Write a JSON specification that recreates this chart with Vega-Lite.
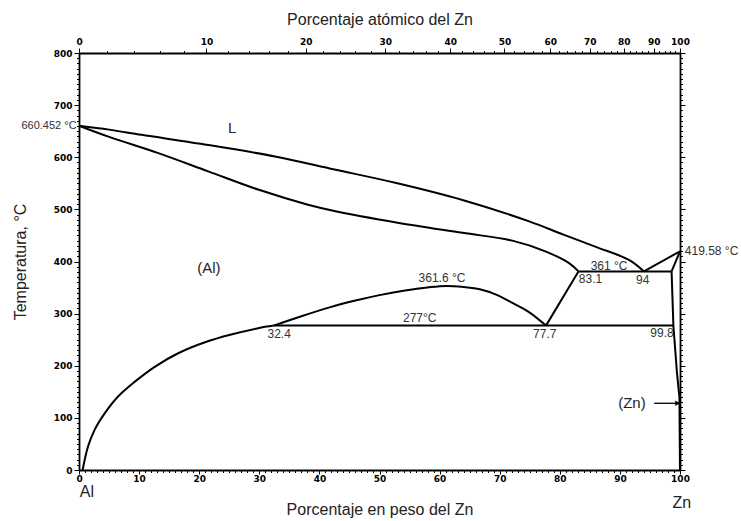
{
  "$schema": "https://vega.github.io/schema/vega-lite/v6.json",
  "width": 601,
  "height": 417,
  "autosize": "none",
  "padding": {"left": 79, "top": 53, "right": 61, "bottom": 51},
  "background": "white",
  "config": {"view": {"stroke": null}},
  "datasets": {
    "curves": [
      {"seg": "liq", "i": 0, "wt": 0, "T": 660.45},
      {"seg": "liq", "i": 1, "wt": 5, "T": 653},
      {"seg": "liq", "i": 2, "wt": 10.4, "T": 643},
      {"seg": "liq", "i": 3, "wt": 21.5, "T": 623.5},
      {"seg": "liq", "i": 4, "wt": 32.6, "T": 601.5},
      {"seg": "liq", "i": 5, "wt": 42.5, "T": 576.5},
      {"seg": "liq", "i": 6, "wt": 52.8, "T": 550.5},
      {"seg": "liq", "i": 7, "wt": 63.8, "T": 518},
      {"seg": "liq", "i": 8, "wt": 74.9, "T": 477},
      {"seg": "liq", "i": 9, "wt": 80.5, "T": 452},
      {"seg": "liq", "i": 10, "wt": 86, "T": 428},
      {"seg": "liq", "i": 11, "wt": 91.5, "T": 403},
      {"seg": "liq", "i": 12, "wt": 94, "T": 381},
      {"seg": "sol", "i": 0, "wt": 0, "T": 660.45},
      {"seg": "sol", "i": 1, "wt": 4.9, "T": 639.5},
      {"seg": "sol", "i": 2, "wt": 13.2, "T": 608},
      {"seg": "sol", "i": 3, "wt": 21.5, "T": 573},
      {"seg": "sol", "i": 4, "wt": 29.8, "T": 538},
      {"seg": "sol", "i": 5, "wt": 38.1, "T": 509},
      {"seg": "sol", "i": 6, "wt": 42.5, "T": 497},
      {"seg": "sol", "i": 7, "wt": 52.8, "T": 475},
      {"seg": "sol", "i": 8, "wt": 63.8, "T": 455},
      {"seg": "sol", "i": 9, "wt": 72.1, "T": 440},
      {"seg": "sol", "i": 10, "wt": 77.7, "T": 419},
      {"seg": "sol", "i": 11, "wt": 81.6, "T": 396.5},
      {"seg": "sol", "i": 12, "wt": 83.1, "T": 381},
      {"seg": "solvus", "i": 0, "wt": 0.6, "T": 0},
      {"seg": "solvus", "i": 1, "wt": 1.5, "T": 45},
      {"seg": "solvus", "i": 2, "wt": 2.6, "T": 77},
      {"seg": "solvus", "i": 3, "wt": 4.3, "T": 109},
      {"seg": "solvus", "i": 4, "wt": 6.5, "T": 141},
      {"seg": "solvus", "i": 5, "wt": 9.3, "T": 169.5},
      {"seg": "solvus", "i": 6, "wt": 12.6, "T": 198},
      {"seg": "solvus", "i": 7, "wt": 16.5, "T": 224},
      {"seg": "solvus", "i": 8, "wt": 21.2, "T": 246},
      {"seg": "solvus", "i": 9, "wt": 25, "T": 259},
      {"seg": "solvus", "i": 10, "wt": 29.8, "T": 272},
      {"seg": "solvus", "i": 11, "wt": 32.4, "T": 277},
      {"seg": "dome", "i": 0, "wt": 32.4, "T": 277},
      {"seg": "dome", "i": 1, "wt": 37, "T": 295},
      {"seg": "dome", "i": 2, "wt": 41.7, "T": 312},
      {"seg": "dome", "i": 3, "wt": 46, "T": 325},
      {"seg": "dome", "i": 4, "wt": 50, "T": 335.5},
      {"seg": "dome", "i": 5, "wt": 54, "T": 344},
      {"seg": "dome", "i": 6, "wt": 58.3, "T": 350.6},
      {"seg": "dome", "i": 7, "wt": 61.1, "T": 353},
      {"seg": "dome", "i": 8, "wt": 64, "T": 351},
      {"seg": "dome", "i": 9, "wt": 66.7, "T": 346.8},
      {"seg": "dome", "i": 10, "wt": 69.5, "T": 336},
      {"seg": "dome", "i": 11, "wt": 72.2, "T": 320},
      {"seg": "dome", "i": 12, "wt": 75, "T": 302},
      {"seg": "dome", "i": 13, "wt": 77.7, "T": 277}
    ],
    "lines": [
      {"seg": "zl", "i": 0, "wt": 94, "T": 381},
      {"seg": "zl", "i": 1, "wt": 100, "T": 419.58},
      {"seg": "zs", "i": 0, "wt": 100, "T": 419.58},
      {"seg": "zs", "i": 1, "wt": 98.6, "T": 381},
      {"seg": "eut", "i": 0, "wt": 83.1, "T": 381},
      {"seg": "eut", "i": 1, "wt": 98.6, "T": 381},
      {"seg": "zsolv", "i": 0, "wt": 98.6, "T": 381},
      {"seg": "zsolv", "i": 1, "wt": 98.9, "T": 277},
      {"seg": "zsolv", "i": 2, "wt": 99.5, "T": 186},
      {"seg": "zsolv", "i": 3, "wt": 99.9, "T": 140},
      {"seg": "zsolv", "i": 4, "wt": 100, "T": 0},
      {"seg": "mono", "i": 0, "wt": 32.4, "T": 277},
      {"seg": "mono", "i": 1, "wt": 98.9, "T": 277},
      {"seg": "l1", "i": 0, "wt": 77.7, "T": 277},
      {"seg": "l1", "i": 1, "wt": 83.1, "T": 381}
    ],
    "labels": [
      {"grp": "s", "wt": 60.4, "T": 368, "text": "361.6 °C"},
      {"grp": "s", "wt": 56.7, "T": 291, "text": "277°C"},
      {"grp": "s", "wt": 33.3, "T": 260, "text": "32.4"},
      {"grp": "s", "wt": 77.5, "T": 260, "text": "77.7"},
      {"grp": "s", "wt": 88.2, "T": 391, "text": "361 °C"},
      {"grp": "s", "wt": 85.1, "T": 366, "text": "83.1"},
      {"grp": "s", "wt": 93.8, "T": 364.5, "text": "94"},
      {"grp": "s", "wt": 97.0, "T": 262, "text": "99.8"},
      {"grp": "b", "wt": 25.5, "T": 656, "text": "L"},
      {"grp": "b", "wt": 21.6, "T": 388, "text": "(Al)"},
      {"grp": "b", "wt": 92, "T": 128, "text": "(Zn)"},
      {"grp": "e", "wt": 1.3, "T": -42, "text": "Al"},
      {"grp": "e", "wt": 100.3, "T": -63, "text": "Zn"},
      {"grp": "r", "wt": -0.4, "T": 660, "text": "660.452 °C"},
      {"grp": "l", "wt": 100.8, "T": 421, "text": "419.58 °C"}
    ],
    "arrow": [
      {"wt": 95.7, "wt2": 99.6, "T": 128}
    ]
  },
  "layer": [
    {
      "data": {"name": "curves"},
      "mark": {"type": "line", "interpolate": "catmull-rom", "color": "black", "strokeWidth": 2},
      "encoding": {
        "x": {
          "field": "wt", "type": "quantitative",
          "scale": {"domain": [0, 100], "nice": false, "zero": false},
          "axis": {
            "orient": "bottom",
            "values": [0,1,2,3,4,5,6,7,8,9,10,11,12,13,14,15,16,17,18,19,20,21,22,23,24,25,26,27,28,29,30,31,32,33,34,35,36,37,38,39,40,41,42,43,44,45,46,47,48,49,50,51,52,53,54,55,56,57,58,59,60,61,62,63,64,65,66,67,68,69,70,71,72,73,74,75,76,77,78,79,80,81,82,83,84,85,86,87,88,89,90,91,92,93,94,95,96,97,98,99,100],
            "labelExpr": "datum.value % 10 === 0 ? datum.label : ''",
            "tickSize": {"condition": {"test": "datum.value % 10 === 0", "value": 4}, "value": 2.5},
            "grid": false,
            "domainColor": "black", "domainWidth": 1.8,
            "tickColor": "black", "tickWidth": 1,
            "labelFont": "DejaVu Sans", "labelFontWeight": "bold", "labelFontSize": 9, "labelColor": "black",
            "labelPadding": 0, "labelFlush": false, "labelOverlap": false,
            "title": "Porcentaje en peso del Zn",
            "titleFont": "Liberation Sans", "titleFontSize": 16, "titleFontWeight": "normal", "titleColor": "#222",
            "titleY": 44, "titleBaseline": "alphabetic"
          }
        },
        "y": {
          "field": "T", "type": "quantitative",
          "scale": {"domain": [0, 800], "nice": false},
          "axis": {
            "orient": "left",
            "values": [0,10,20,30,40,50,60,70,80,90,100,110,120,130,140,150,160,170,180,190,200,210,220,230,240,250,260,270,280,290,300,310,320,330,340,350,360,370,380,390,400,410,420,430,440,450,460,470,480,490,500,510,520,530,540,550,560,570,580,590,600,610,620,630,640,650,660,670,680,690,700,710,720,730,740,750,760,770,780,790,800],
            "labelExpr": "datum.value % 100 === 0 ? datum.label : ''",
            "tickSize": {"condition": {"test": "datum.value % 100 === 0", "value": 5}, "value": 2.5},
            "grid": false,
            "domainColor": "black", "domainWidth": 1.8,
            "tickColor": "black", "tickWidth": 1,
            "labelFont": "DejaVu Sans", "labelFontWeight": "bold", "labelFontSize": 9, "labelColor": "black",
            "labelPadding": 2, "labelFlush": false, "labelOverlap": false,
            "title": "Temperatura, °C",
            "titleFont": "Liberation Sans", "titleFontSize": 16, "titleFontWeight": "normal", "titleColor": "#222",
            "titleX": -54, "titleBaseline": "alphabetic", "titleAngle": -90
          }
        },
        "detail": {"field": "seg"},
        "order": {"field": "i"}
      }
    },
    {
      "data": {"name": "lines"},
      "mark": {"type": "line", "color": "black", "strokeWidth": 2},
      "encoding": {
        "x": {"field": "wt", "type": "quantitative", "axis": null},
        "y": {"field": "T", "type": "quantitative", "axis": null},
        "detail": {"field": "seg"},
        "order": {"field": "i"}
      }
    },
    {
      "data": {"name": "arrow"},
      "mark": {"type": "rule", "color": "black", "strokeWidth": 1.3},
      "encoding": {
        "x": {"field": "wt", "type": "quantitative", "axis": null},
        "x2": {"field": "wt2"},
        "y": {"field": "T", "type": "quantitative", "axis": null}
      }
    },
    {
      "data": {"name": "arrow"},
      "mark": {"type": "point", "shape": "triangle-right", "filled": true, "color": "black", "size": 30, "opacity": 1},
      "encoding": {
        "x": {"field": "wt2", "type": "quantitative", "axis": null},
        "y": {"field": "T", "type": "quantitative", "axis": null}
      }
    },
    {
      "data": {"name": "labels"},
      "transform": [{"filter": "datum.grp === 's'"}],
      "mark": {"type": "text", "font": "Liberation Sans", "fontSize": 12, "color": "#333", "align": "center", "baseline": "middle"},
      "encoding": {
        "x": {"field": "wt", "type": "quantitative", "axis": null},
        "y": {"field": "T", "type": "quantitative", "axis": null},
        "text": {"field": "text"}
      }
    },
    {
      "data": {"name": "labels"},
      "transform": [{"filter": "datum.grp === 'b'"}],
      "mark": {"type": "text", "font": "Liberation Sans", "fontSize": 15, "color": "#222", "align": "center", "baseline": "middle"},
      "encoding": {
        "x": {"field": "wt", "type": "quantitative", "axis": null},
        "y": {"field": "T", "type": "quantitative", "axis": null},
        "text": {"field": "text"}
      }
    },
    {
      "data": {"name": "labels"},
      "transform": [{"filter": "datum.grp === 'e'"}],
      "mark": {"type": "text", "font": "Liberation Sans", "fontSize": 16, "color": "#222", "align": "center", "baseline": "middle"},
      "encoding": {
        "x": {"field": "wt", "type": "quantitative", "axis": null},
        "y": {"field": "T", "type": "quantitative", "axis": null},
        "text": {"field": "text"}
      }
    },
    {
      "data": {"name": "labels"},
      "transform": [{"filter": "datum.grp === 'r'"}],
      "mark": {"type": "text", "font": "Liberation Sans", "fontSize": 11, "color": "#333", "align": "right", "baseline": "middle"},
      "encoding": {
        "x": {"field": "wt", "type": "quantitative", "axis": null},
        "y": {"field": "T", "type": "quantitative", "axis": null},
        "text": {"field": "text"}
      }
    },
    {
      "data": {"name": "labels"},
      "transform": [{"filter": "datum.grp === 'l'"}],
      "mark": {"type": "text", "font": "Liberation Sans", "fontSize": 12, "color": "#333", "align": "left", "baseline": "middle"},
      "encoding": {
        "x": {"field": "wt", "type": "quantitative",
          "axis": {
            "orient": "top",
            "values": [0,4.712,9.171,13.396,17.405,21.213,24.838,28.289,31.581,34.723,37.726,40.600,43.351,45.988,48.517,50.946,53.279,55.523,57.682,59.763,61.767,63.699,65.565,67.366,69.106,70.788,72.416,73.990,75.516,76.993,78.425,79.814,81.161,82.469,83.738,84.972,86.171,87.337,88.471,89.575,90.648,91.694,92.712,93.705,94.672,95.615,96.536,97.433,98.309,99.165,100],
            "labelExpr": "round(100*datum.value/(242.328-1.42328*datum.value)) % 10 === 0 ? format(round(100*datum.value/(242.328-1.42328*datum.value)), 'd') : ''",
            "tickSize": {"condition": {"test": "round(100*datum.value/(242.328-1.42328*datum.value)) % 10 === 0", "value": 5}, "value": 2.5},
            "grid": false,
            "domainColor": "black", "domainWidth": 1.8,
            "tickColor": "black", "tickWidth": 1,
            "labelFont": "DejaVu Sans", "labelFontWeight": "bold", "labelFontSize": 9, "labelColor": "black",
            "labelPadding": 2, "labelFlush": false, "labelOverlap": false,
            "title": "Porcentaje atómico del Zn",
            "titleFont": "Liberation Sans", "titleFontSize": 16, "titleFontWeight": "normal", "titleColor": "#222",
            "titleY": -29, "titleBaseline": "alphabetic"
          }
        },
        "y": {"field": "T", "type": "quantitative",
          "axis": {
            "orient": "right",
            "values": [0,10,20,30,40,50,60,70,80,90,100,110,120,130,140,150,160,170,180,190,200,210,220,230,240,250,260,270,280,290,300,310,320,330,340,350,360,370,380,390,400,410,420,430,440,450,460,470,480,490,500,510,520,530,540,550,560,570,580,590,600,610,620,630,640,650,660,670,680,690,700,710,720,730,740,750,760,770,780,790,800],
            "labels": false,
            "tickSize": {"condition": {"test": "datum.value % 100 === 0", "value": 5}, "value": 2.5},
            "grid": false,
            "domainColor": "black", "domainWidth": 1.8,
            "tickColor": "black", "tickWidth": 1,
            "title": null
          }
        },
        "text": {"field": "text"}
      }
    }
  ],
  "resolve": {"axis": {"x": "independent", "y": "independent"}}
}
